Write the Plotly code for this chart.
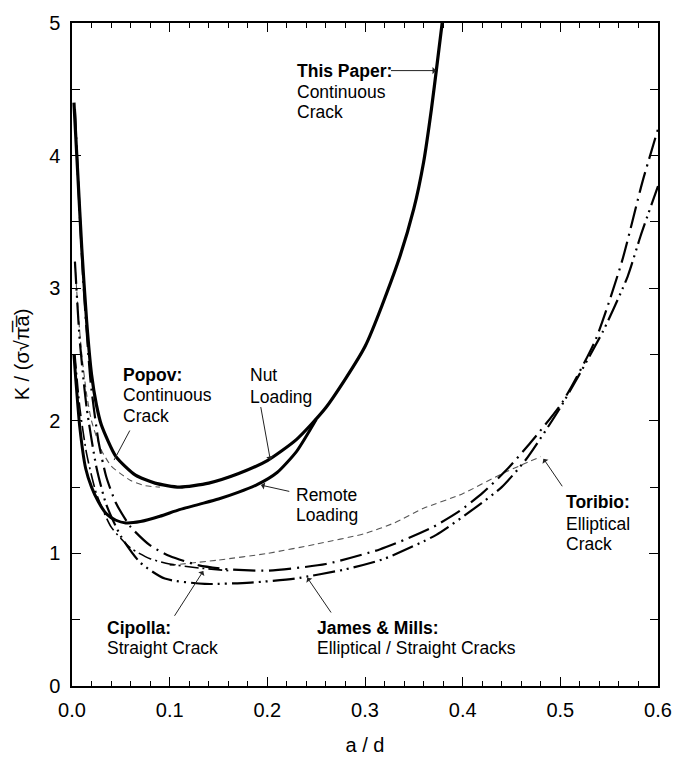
import plotly.graph_objects as go

# ---- data ----
nut_x = [0.002, 0.006, 0.010, 0.015, 0.020, 0.025, 0.030, 0.045, 0.065, 0.085, 0.110, 0.140,
         0.170, 0.200, 0.230, 0.260, 0.300, 0.333, 0.350, 0.360, 0.368, 0.374, 0.379]
nut_y = [4.40, 3.85, 3.30, 2.75, 2.35, 2.12, 1.97, 1.73, 1.59, 1.53, 1.50, 1.53,
         1.60, 1.70, 1.86, 2.10, 2.56, 3.18, 3.60, 3.95, 4.35, 4.70, 5.00]

remote_x = [0.002, 0.004, 0.008, 0.014, 0.020, 0.027, 0.035, 0.045, 0.055, 0.070, 0.090,
            0.110, 0.130, 0.150, 0.170, 0.190, 0.210, 0.230, 0.250]
remote_y = [2.50, 2.30, 1.95, 1.64, 1.50, 1.39, 1.30, 1.25, 1.23, 1.24, 1.28,
            1.33, 1.37, 1.41, 1.46, 1.52, 1.61, 1.77, 2.01]

popov_x = [0.003, 0.006, 0.010, 0.015, 0.020, 0.030, 0.040, 0.050, 0.060, 0.075, 0.090]
popov_y = [3.20, 2.85, 2.50, 2.20, 2.00, 1.78, 1.66, 1.60, 1.55, 1.51, 1.50]

toribio_x = [0.10, 0.15, 0.20, 0.25, 0.30, 0.33, 0.36, 0.40, 0.44, 0.48]
toribio_y = [0.91, 0.95, 1.00, 1.07, 1.15, 1.23, 1.34, 1.45, 1.60, 1.73]

jm_ell_x = [0.003, 0.007, 0.012, 0.019, 0.027, 0.035, 0.045, 0.060, 0.080, 0.100, 0.130,
            0.160, 0.200, 0.260, 0.315, 0.343, 0.370, 0.397, 0.421, 0.445, 0.470, 0.502,
            0.536, 0.563, 0.584, 0.600]
jm_ell_y = [4.35, 3.70, 3.00, 2.30, 1.85, 1.58, 1.38, 1.20, 1.06, 0.98, 0.91,
            0.88, 0.87, 0.92, 1.03, 1.11, 1.20, 1.32, 1.46, 1.63, 1.84, 2.14,
            2.61, 3.20, 3.80, 4.20]

jm_str_x = [0.003, 0.008, 0.015, 0.025, 0.035, 0.050, 0.070, 0.095, 0.136, 0.183, 0.228,
            0.280, 0.320, 0.373, 0.412, 0.440, 0.465, 0.500, 0.544, 0.569, 0.582, 0.600]
jm_str_y = [3.20, 2.60, 2.10, 1.65, 1.37, 1.13, 0.93, 0.81, 0.77, 0.78, 0.81,
            0.88, 0.96, 1.14, 1.34, 1.50, 1.71, 2.10, 2.68, 3.09, 3.39, 3.77]

cipolla_x = [0.003, 0.008, 0.015, 0.025, 0.040, 0.060, 0.080, 0.100, 0.130, 0.160]
cipolla_y = [2.50, 2.10, 1.75, 1.45, 1.20, 1.04, 0.96, 0.92, 0.89, 0.87]

x_ticks = [0.0, 0.1, 0.2, 0.3, 0.4, 0.5, 0.6]
y_ticks = [0, 1, 2, 3, 4, 5]

FONT = "Liberation Sans, Arial, Helvetica, sans-serif"

fig = go.Figure()

def add_line(x, y, width, dash, color="black", smooth=0.6):
    fig.add_trace(go.Scatter(x=x, y=y, mode="lines",
                             line=dict(color=color, width=width, dash=dash,
                                       shape="spline", smoothing=smooth),
                             showlegend=False, hoverinfo="skip"))

add_line(toribio_x, toribio_y, 1.1, "6px,4px", color="#555555")
add_line(popov_x, popov_y, 1.1, "6px,4px", color="#555555")
add_line(cipolla_x, cipolla_y, 1.6, "14px,4px,2px,4px")
add_line(jm_str_x, jm_str_y, 2.2, "22px,5px,2px,5px,2px,5px")
add_line(jm_ell_x, jm_ell_y, 2.2, "22px,6px,2px,6px")
add_line(remote_x, remote_y, 3.0, "solid")
add_line(nut_x, nut_y, 3.2, "solid")

# ---- labels ----
labels = [
    (0.2284, [(4.641, "<b>This Paper:</b>"), (4.477, "Continuous"), (4.327, "Crack")]),
    (0.0499, [(2.349, "<b>Popov:</b>"), (2.192, "Continuous"), (2.038, "Crack")]),
    (0.1800, [(2.342, "Nut"), (2.182, "Loading")]),
    (0.2274, [(1.440, "Remote"), (1.291, "Loading")]),
    (0.0340, [(0.441, "<b>Cipolla:</b>"), (0.284, "Straight Crack")]),
    (0.2490, [(0.441, "<b>James &amp; Mills:</b>"), (0.284, "Elliptical / Straight Cracks")]),
    (0.5040, [(1.385, "<b>Toribio:</b>"), (1.220, "Elliptical"), (1.071, "Crack")]),
]
for lx, rows in labels:
    for ly, txt in rows:
        fig.add_annotation(x=lx, y=ly, xref="x", yref="y", text=txt, showarrow=False,
                           xanchor="left", yanchor="middle",
                           font=dict(family=FONT, size=17.5, color="black"))

# arrows: (head_x, head_y, tail_x, tail_y, arrowhead)
arrows = [
    (0.3728, 4.641, 0.3251, 4.641, 1),
    (0.0431, 1.704, 0.0600, 1.938, 0),
    (0.2031, 1.704, 0.1930, 2.115, 1),
    (0.1935, 1.515, 0.2240, 1.465, 1),
    (0.1344, 0.867, 0.1040, 0.518, 1),
    (0.2409, 0.817, 0.2663, 0.543, 1),
    (0.4827, 1.714, 0.5030, 1.495, 1),
]
for hx, hy, tx, ty, head in arrows:
    fig.add_annotation(x=hx, y=hy, ax=tx, ay=ty, xref="x", yref="y", axref="x", ayref="y",
                       text="", showarrow=True, arrowhead=head, arrowsize=1.2,
                       arrowwidth=1, arrowcolor="#222222")

axis_common = dict(showline=True, linecolor="black", linewidth=1.5, mirror="ticks",
                   ticks="inside", ticklen=9, tickwidth=1.2, tickcolor="black",
                   showgrid=False, zeroline=False,
                   tickfont=dict(family=FONT, size=20, color="black"))

fig.update_xaxes(range=[0, 0.6], tickvals=x_ticks, tickformat=".1f",
                 minor=dict(dtick=0.02, ticks="inside", ticklen=5, tickcolor="black",
                            tickwidth=1.1, showgrid=False),
                 title=dict(text="a / d", font=dict(family=FONT, size=20, color="black"),
                            standoff=18),
                 ticklabelstandoff=5,
                 **axis_common)
fig.update_yaxes(range=[0, 5], tickvals=y_ticks,
                 minor=dict(dtick=0.5, ticks="inside", ticklen=8, tickcolor="black",
                            tickwidth=1.1, showgrid=False),
                 title=dict(text="K / (σ√π̅a̅)", font=dict(family=FONT, size=20, color="black"),
                            standoff=14),
                 ticklabelstandoff=6,
                 **axis_common)

fig.update_layout(width=684, height=765,
                  margin=dict(l=72, r=20, t=17, b=79, pad=0),
                  plot_bgcolor="white", paper_bgcolor="white",
                  font=dict(family=FONT, color="black"))

fig.write_html("out.html")
